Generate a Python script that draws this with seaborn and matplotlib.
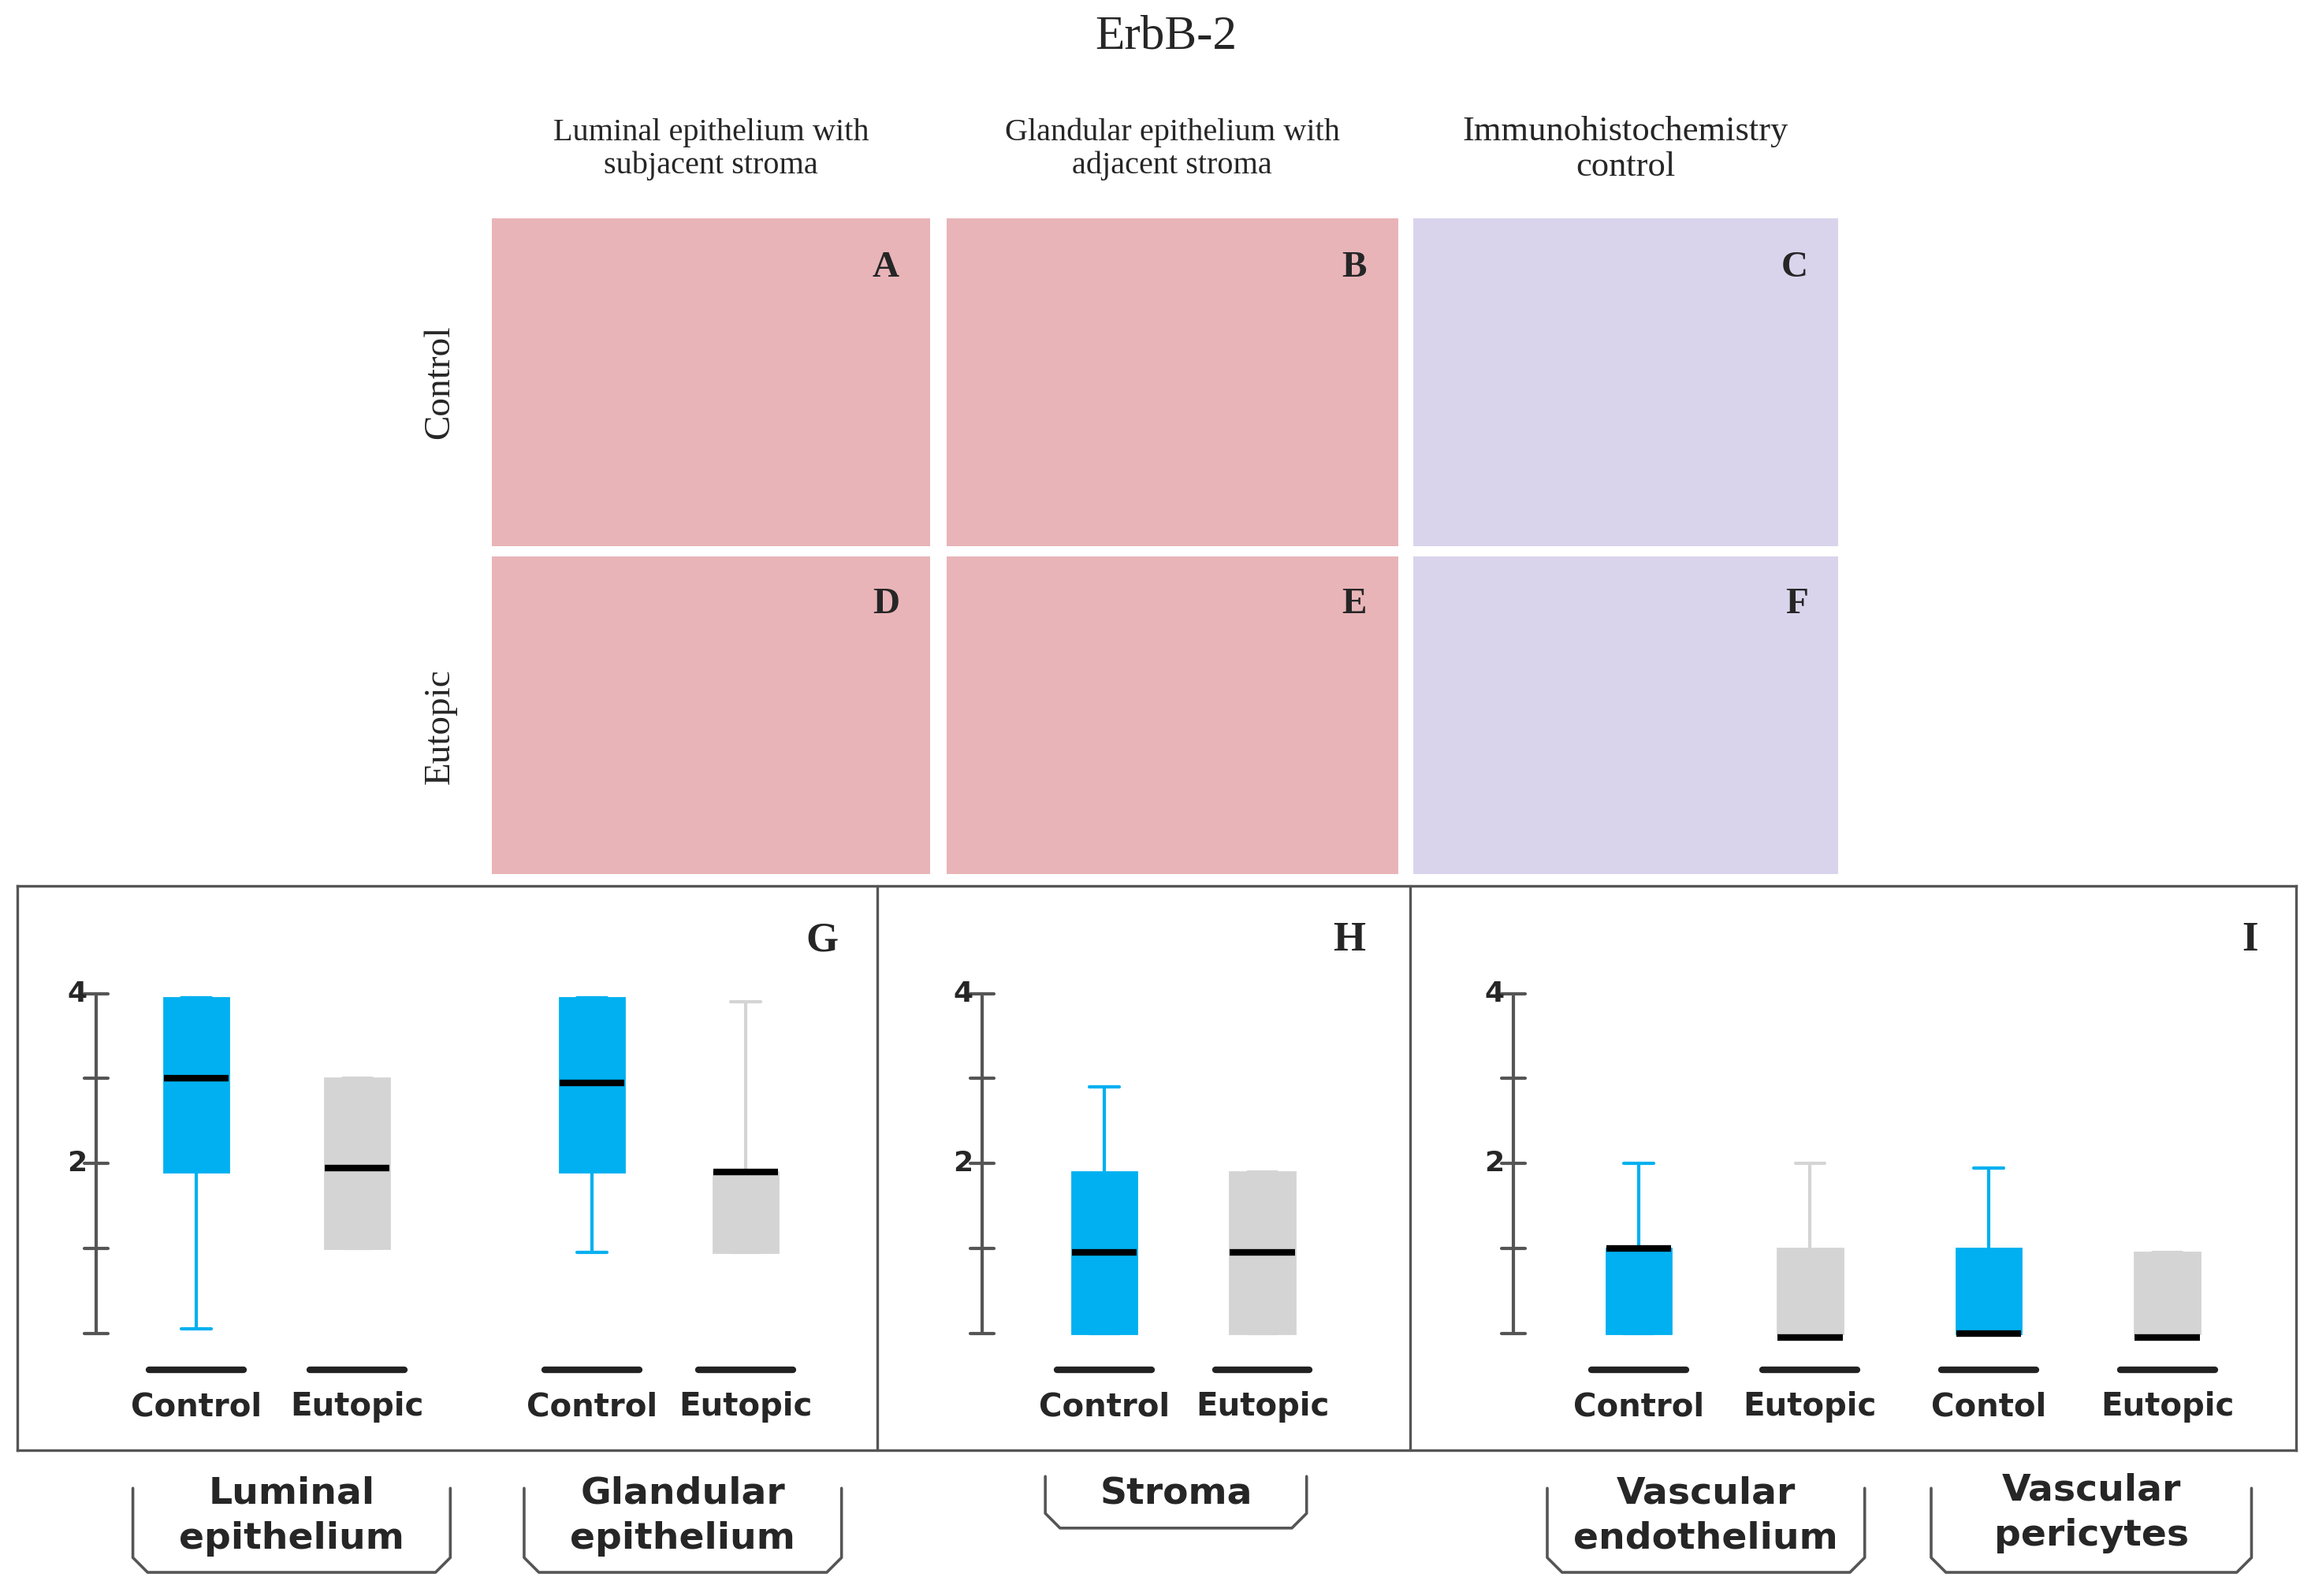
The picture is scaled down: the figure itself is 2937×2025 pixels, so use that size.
import numpy as np
import matplotlib
matplotlib.use("Agg")
import matplotlib.pyplot as plt
import seaborn as sns

sns.set_style("white")

W, H = 1568, 1081  # reference layout units

# box statistics (score 0-4)
groups = ["Control", "Eutopic", "Control", "Eutopic"]
g_q1 = [1.9, 1.0, 1.9, 0.95]
g_med = [3.0, 1.95, 2.95, 1.9]
g_q3 = [3.95, 3.0, 3.95, 1.9]
g_lo = [0.05, 1.0, 0.95, 0.95]
g_hi = [3.95, 3.0, 3.95, 3.9]

s_groups = ["Control", "Eutopic"]
s_q1 = [0.0, 0.0]
s_med = [0.95, 0.95]
s_q3 = [1.9, 1.9]
s_lo = [0.0, 0.0]
s_hi = [2.9, 1.9]

v_groups = ["Control", "Eutopic", "Contol", "Eutopic"]
v_q1 = [0.0, 0.0, 0.0, 0.0]
v_med = [1.0, -0.05, 0.0, -0.05]
v_q3 = [1.0, 1.0, 1.0, 0.95]
v_lo = [0.0, 0.0, 0.0, 0.0]
v_hi = [2.0, 2.0, 1.95, 0.95]

BLUE = "#00b0f0"
GREY = "#d4d4d4"

fig = plt.figure(figsize=(14.685, 10.125), dpi=200)


def rect(x0, y0, x1, y1):
    return [x0 / W, 1 - y1 / H, (x1 - x0) / W, (y1 - y0) / H]


def fx(x):
    return x / W


def fy(y):
    return 1 - y / H


fig.text(fx(790), fy(25), "ErbB-2", ha="center", va="center", fontsize=22, family="Liberation Serif")
col_titles = ["Luminal epithelium with\nsubjacent stroma", "Glandular epithelium with\nadjacent stroma",
              "Immunohistochemistry\ncontrol"]
col_x = [(333, 630), (641, 947), (957, 1245)]
for (a, b), t in zip(col_x, col_titles):
    fig.text(fx((a + b) / 2), fy(101), t, ha="center", va="center",
             fontsize=16 if "Immuno" in t else 14.5,
             family="Liberation Serif", linespacing=1.15)
rows = [(148, 370), (377, 592)]
fig.text(fx(298), fy(259), "Control", rotation=90, ha="center", va="center", fontsize=17, family="Liberation Serif")
fig.text(fx(298), fy(492), "Eutopic", rotation=90, ha="center", va="center", fontsize=17, family="Liberation Serif")
letters = iter("ABCDEF")
for (y0, y1) in rows:
    for i, (a, b) in enumerate(col_x):
        ax = fig.add_axes(rect(a, y0, b, y1))
        ax.set_facecolor("#e8b4b8" if i < 2 else "#d9d4ec")
        ax.set_xticks([]); ax.set_yticks([])
        for s in ax.spines.values():
            s.set_visible(False)
        ax.text(0.93, 0.85, next(letters), transform=ax.transAxes, ha="right", va="center",
                fontsize=17, fontweight="bold", family="Liberation Serif")

# bottom frame
frame = fig.add_axes(rect(12, 600, 1555, 982))
frame.set_xticks([]); frame.set_yticks([])
frame.patch.set_alpha(0)
for s in frame.spines.values():
    s.set_color("#555555"); s.set_linewidth(1.2)
for xv in (594, 955):
    fig.add_artist(plt.Line2D([fx(xv)] * 2, [fy(600), fy(982)], color="#555555", lw=1.2))

ylo = -(940 - 903) / 57.5
yhi = 4 + (673 - 640) / 57.5


def panel(x0, x1, axis_x, pos, colors, q1, med, q3, lo, hi, labels, letter, letter_x):
    ax = fig.add_axes(rect(x0, 640, x1, 940))
    ax.patch.set_alpha(0)
    ax.set_xlim(x0, x1)
    ax.set_ylim(ylo, yhi)
    ax.axis("off")
    stats = [dict(med=m, q1=a, q3=b, whislo=l, whishi=h, fliers=[])
             for a, m, b, l, h in zip(q1, med, q3, lo, hi)]
    for st, p, c in zip(stats, pos, colors):
        ax.bxp([st], positions=[p], widths=44, patch_artist=True, showfliers=False,
               boxprops=dict(facecolor=c, edgecolor=c),
               medianprops=dict(color="black", lw=3),
               whiskerprops=dict(color=c, lw=1.5),
               capprops=dict(color=c, lw=1.5), capwidths=20, manage_ticks=False)
        ax.plot([p - 32, p + 32], [-0.43, -0.43], color="#222222", lw=3)
    ax.plot([axis_x, axis_x], [0, 4], color="#555555", lw=1.5)
    for t in range(5):
        ax.plot([axis_x - 8, axis_x + 8], [t, t], color="#555555", lw=1.5)
    for t in (2, 4):
        ax.text(axis_x - 6, t, str(t), ha="right", va="center", fontsize=13, fontweight="bold")
    for p, lb in zip(pos, labels):
        fig.text(fx(p), fy(953), lb, ha="center", va="center", fontsize=14.5, fontweight="bold")
    fig.text(fx(letter_x), fy(637), letter, ha="center", va="center", fontsize=19,
             fontweight="bold", family="Liberation Serif")


panel(40, 580, 65, [133, 242, 401, 505], [BLUE, GREY, BLUE, GREY],
      g_q1, g_med, g_q3, g_lo, g_hi, groups, "G", 557)
panel(600, 945, 665, [748, 855], [BLUE, GREY], s_q1, s_med, s_q3, s_lo, s_hi, s_groups, "H", 914)
panel(960, 1550, 1025, [1110, 1226, 1347, 1468], [BLUE, GREY, BLUE, GREY],
      v_q1, v_med, v_q3, v_lo, v_hi, v_groups, "I", 1524)

# brackets with structure names
brackets = [(90, 305, "Luminal\nepithelium", 1027), (355, 570, "Glandular\nepithelium", 1027),
            (708, 885, "Stroma", 1012), (1048, 1263, "Vascular\nendothelium", 1027),
            (1308, 1525, "Vascular\npericytes", 1025)]
for a, b, lab, ty in brackets:
    xs = [fx(a), fx(a), fx(a + 10), fx(b - 10), fx(b), fx(b)]
    ys = [fy(1008), fy(1055), fy(1065), fy(1065), fy(1055), fy(1008)]
    if lab == "Stroma":
        ys = [fy(1000), fy(1025), fy(1035), fy(1035), fy(1025), fy(1000)]
    fig.add_artist(plt.Line2D(xs, ys, color="#555555", lw=1.3))
    fig.text(fx((a + b) / 2), fy(ty), lab, ha="center", va="center", fontsize=17,
             fontweight="bold", linespacing=1.35)

fig.savefig("out.png", dpi=200, facecolor="white")
